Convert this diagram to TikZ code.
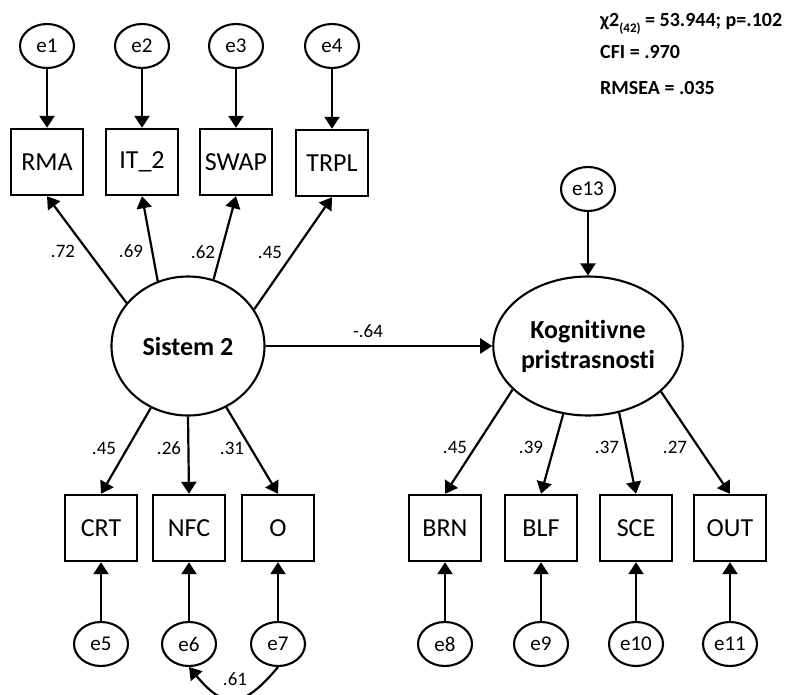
\documentclass[tikz,border=0pt]{standalone}
\usepackage{fontspec}
\setmainfont{Carlito}[RawFeature={-liga;-clig;-dlig;-calt}]
\usepackage{tikz}
\usetikzlibrary{arrows.meta}
\usetikzlibrary{shapes.geometric}

\begin{document}
\begin{tikzpicture}[x=1pt,y=1pt,
	obs/.style={draw,line width=2.4pt,minimum width=72pt,minimum height=66pt,inner sep=0pt,font=\fontsize{26}{30}\selectfont},
	lat/.style={draw,ellipse,line width=2.1pt,minimum width=153pt,minimum height=139pt,inner sep=0pt,align=center,font=\bfseries\fontsize{26}{30}\selectfont},
	err/.style={draw,ellipse,line width=2.1pt,minimum width=54pt,minimum height=44pt,inner sep=0pt,font=\fontsize{21}{24}\selectfont},
	coef/.style={inner sep=0pt,font=\fontsize{19}{22}\selectfont},
	stat/.style={anchor=base west,inner sep=0pt,font=\bfseries\fontsize{20}{24}\selectfont},
	lnk/.style={-{Triangle[length=12pt,width=15pt]},line width=2.2pt}]
	\useasboundingbox (0,0) rectangle (787,-695);
	% latent variables
	\node [lat] (s2) at (188,-346) {Sistem 2};
	\node [lat] (kog) at (588,-346) {Kognit\kern0pt ivne\\pristrasnost\kern0pt i};
	% indicators
	\node [obs] (rma) at (47,-162) {RMA};
	\node [obs] (it2) at (142,-162) {IT\_2};
	\node [obs] (swap) at (236,-162) {SWAP};
	\node [obs] (trpl) at (332,-163) {TRPL};
	\node [obs] (crt) at (101,-528) {CRT};
	\node [obs] (nfc) at (189,-528) {NFC};
	\node [obs] (o) at (278,-528) {O};
	\node [obs] (brn) at (445,-528) {BRN};
	\node [obs] (blf) at (541,-528) {BLF};
	\node [obs] (sce) at (636,-528) {SCE};
	\node [obs] (out) at (730,-528) {OUT};
	% errors
	\node [err] (e1) at (47,-46) {e1};
	\node [err] (e2) at (142,-46) {e2};
	\node [err] (e3) at (236,-46) {e3};
	\node [err] (e4) at (332,-46) {e4};
	\node [err] (e5) at (101,-644) {e5};
	\node [err] (e6) at (189,-644) {e6};
	\node [err] (e7) at (278,-644) {e7};
	\node [err] (e8) at (445,-644) {e8};
	\node [err] (e9) at (541,-644) {e9};
	\node [err] (e10) at (636,-644) {e10};
	\node [err] (e11) at (730,-644) {e11};
	\node [err] (e13) at (588,-189) {e13};
	% fit indices
	\node [stat] (chi) at (600,-27) {χ2\raisebox{-6pt}{\fontsize{13}{14}\selectfont(42)} = 53.944; p=.102};
	\node [stat] (cfi) at (600,-59) {CFI = .970};
	\node [stat] (rmsea) at (600,-95) {RMSEA = .035};
	% loadings
	\node [coef] (c1) at (63,-251) {.72};
	\node [coef] (c2) at (131,-251) {.69};
	\node [coef] (c3) at (203,-252) {.62};
	\node [coef] (c4) at (270,-252) {.45};
	\node [coef] (c5) at (104,-448) {.45};
	\node [coef] (c6) at (169,-448) {.26};
	\node [coef] (c7) at (232,-448) {.31};
	\node [coef] (c8) at (455,-447) {.45};
	\node [coef] (c9) at (531,-447) {.39};
	\node [coef] (c10) at (607,-447) {.37};
	\node [coef] (c11) at (675,-447) {.27};
	\node [coef] (c12) at (368,-331) {-.64};
	\node [coef] (c13) at (235,-679) {.61};
	\draw [lnk] (s2.145) -- (rma.south);
	\draw [lnk] (s2.115) -- (it2.south);
	\draw [lnk] (s2.69) -- (swap.south);
	\draw [lnk] (s2.29) -- (trpl.south);
	\draw [lnk] (s2.239) -- (crt.north);
	\draw [lnk] (s2.270) -- (nfc.north);
	\draw [lnk] (s2.302) -- (o.north);
	\draw [lnk] (s2.east) -- (kog.west);
	\draw [lnk] (kog.210) -- (brn.north);
	\draw [lnk] (kog.250) -- (blf.north);
	\draw [lnk] (kog.295) -- (sce.north);
	\draw [lnk] (kog.328) -- (out.north);
	\draw [lnk] (e1) -- (rma); \draw [lnk] (e2) -- (it2); \draw [lnk] (e3) -- (swap); \draw [lnk] (e4) -- (trpl);
	\draw [lnk] (e5) -- (crt); \draw [lnk] (e6) -- (nfc); \draw [lnk] (e7) -- (o);
	\draw [lnk] (e8) -- (brn); \draw [lnk] (e9) -- (blf); \draw [lnk] (e10) -- (sce); \draw [lnk] (e11) -- (out);
	\draw [lnk] (e13) -- (kog);
	\draw [lnk,{Triangle[length=12pt,width=15pt]}-] (e6.south) to[out=-50,in=-130,looseness=1.6] (e7.south);
\end{tikzpicture}
\end{document}
